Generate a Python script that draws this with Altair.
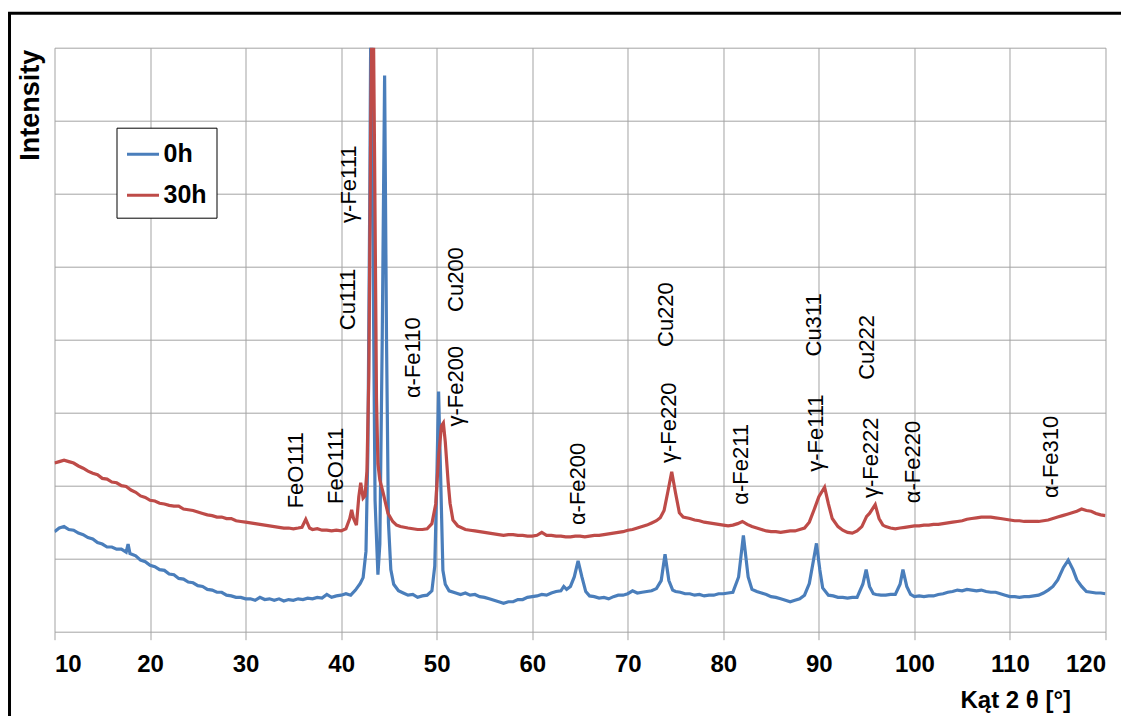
import altair as alt
import pandas as pd

# ---- data ----
angle_0h = [
    10.0, 10.5, 11.0, 11.5, 12.0, 12.5, 13.0, 13.5, 14.0, 14.5,
    15.0, 15.5, 16.0, 16.5, 17.0, 17.5, 17.7, 17.9, 18.5, 19.0,
    19.5, 20.0, 20.5, 21.0, 21.5, 22.0, 22.5, 23.0, 23.5, 24.0,
    24.5, 25.0, 25.5, 26.0, 26.5, 27.0, 27.5, 28.0, 28.5, 29.0,
    29.5, 30.0, 30.5, 31.0, 31.5, 32.0, 32.5, 33.0, 33.5, 34.0,
    34.5, 35.0, 35.5, 36.0, 36.5, 37.0, 37.5, 38.0, 38.5, 39.0,
    39.5, 40.0, 40.5, 41.0, 41.5, 42.0, 42.3, 42.6, 42.8, 43.0,
    43.15, 43.35, 43.55, 43.85, 44.05, 44.3, 44.55, 44.75, 44.95, 45.2,
    45.5, 46.0, 46.5, 47.0, 47.5, 48.0, 48.5, 49.0, 49.5, 49.8,
    50.0, 50.2, 50.4, 50.65, 50.9, 51.3, 52.0, 52.5, 53.0, 53.5,
    54.0, 54.5, 55.0, 55.5, 56.0, 56.5, 57.0, 57.5, 58.0, 58.5,
    59.0, 59.5, 60.0, 60.5, 61.0, 61.5, 62.0, 62.5, 63.0, 63.3,
    63.6, 64.0, 64.4, 64.8, 65.2, 65.6, 66.0, 66.5, 67.0, 67.5,
    68.0, 68.5, 69.0, 69.5, 70.0, 70.5, 71.0, 71.5, 72.0, 72.5,
    73.0, 73.5, 73.9, 74.3, 74.7, 75.0, 75.5, 76.0, 76.5, 77.0,
    77.5, 78.0, 78.5, 79.0, 79.5, 80.0, 80.5, 81.0, 81.6, 82.1,
    82.6, 83.0, 83.5, 84.0, 84.5, 85.0, 85.5, 86.0, 86.5, 87.0,
    87.5, 88.0, 88.5, 89.0, 89.4, 89.75, 90.1, 90.4, 91.0, 91.5,
    92.0, 92.5, 93.0, 93.5, 94.0, 94.6, 94.95, 95.3, 95.7, 96.0,
    96.5, 97.0, 97.5, 98.0, 98.5, 98.8, 99.2, 99.6, 100.0, 100.5,
    101.0, 101.5, 102.0, 102.5, 103.0, 103.5, 104.0, 104.5, 105.0, 105.5,
    106.0, 106.5, 107.0, 107.5, 108.0, 108.5, 109.0, 109.5, 110.0, 110.5,
    111.0, 111.5, 112.0, 112.5, 113.0, 113.5, 114.0, 114.5, 115.0, 115.6,
    116.1, 116.6, 117.0, 117.5, 118.0, 118.5, 119.0, 119.5, 120.0,
]
intensity_0h = [
    1.37, 1.42, 1.44, 1.40, 1.39, 1.35, 1.33, 1.29, 1.27, 1.22,
    1.20, 1.16, 1.16, 1.13, 1.13, 1.09, 1.20, 1.07, 1.04, 0.98,
    0.96, 0.91, 0.89, 0.85, 0.84, 0.79, 0.78, 0.73, 0.72, 0.68,
    0.67, 0.63, 0.62, 0.58, 0.57, 0.54, 0.54, 0.50, 0.49, 0.47,
    0.47, 0.45, 0.45, 0.43, 0.47, 0.44, 0.45, 0.43, 0.45, 0.42,
    0.44, 0.43, 0.45, 0.44, 0.46, 0.45, 0.47, 0.46, 0.51, 0.47,
    0.49, 0.50, 0.52, 0.50, 0.57, 0.66, 0.74, 1.10, 2.50, 6.00,
    9.50, 5.00, 1.80, 0.78, 1.20, 4.00, 7.62, 4.00, 1.50, 0.85,
    0.65, 0.56, 0.53, 0.50, 0.51, 0.47, 0.49, 0.50, 0.56, 0.90,
    2.00, 3.29, 2.20, 0.84, 0.65, 0.56, 0.53, 0.51, 0.53, 0.50,
    0.51, 0.48, 0.47, 0.45, 0.43, 0.41, 0.39, 0.41, 0.41, 0.44,
    0.44, 0.47, 0.48, 0.49, 0.51, 0.50, 0.53, 0.55, 0.56, 0.62,
    0.58, 0.62, 0.75, 0.97, 0.75, 0.55, 0.49, 0.48, 0.46, 0.47,
    0.45, 0.48, 0.50, 0.50, 0.52, 0.56, 0.53, 0.54, 0.55, 0.56,
    0.59, 0.70, 1.06, 0.70, 0.57, 0.55, 0.54, 0.52, 0.52, 0.50,
    0.51, 0.49, 0.50, 0.50, 0.52, 0.52, 0.53, 0.54, 0.75, 1.32,
    0.75, 0.58, 0.55, 0.53, 0.51, 0.48, 0.47, 0.45, 0.43, 0.41,
    0.43, 0.45, 0.50, 0.66, 0.95, 1.21, 0.85, 0.60, 0.50, 0.49,
    0.47, 0.47, 0.46, 0.47, 0.47, 0.65, 0.85, 0.62, 0.52, 0.51,
    0.50, 0.50, 0.51, 0.51, 0.65, 0.85, 0.62, 0.51, 0.48, 0.49,
    0.48, 0.49, 0.49, 0.51, 0.52, 0.54, 0.55, 0.57, 0.56, 0.58,
    0.57, 0.56, 0.57, 0.55, 0.54, 0.54, 0.52, 0.50, 0.48, 0.48,
    0.47, 0.48, 0.48, 0.49, 0.50, 0.53, 0.57, 0.62, 0.71, 0.88,
    0.98, 0.85, 0.71, 0.62, 0.55, 0.54, 0.53, 0.53, 0.52,
]

angle_30h = [
    10.0, 10.5, 11.0, 11.5, 12.0, 12.5, 13.0, 13.5, 14.0, 14.5,
    15.0, 15.5, 16.0, 16.5, 17.0, 17.5, 18.0, 18.5, 19.0, 19.5,
    20.0, 20.5, 21.0, 21.5, 22.0, 22.5, 23.0, 23.5, 24.0, 24.5,
    25.0, 25.5, 26.0, 26.5, 27.0, 27.5, 28.0, 28.5, 29.0, 29.5,
    30.0, 30.5, 31.0, 31.5, 32.0, 32.5, 33.0, 33.5, 34.0, 34.5,
    35.0, 35.5, 35.9, 36.3, 36.7, 37.0, 37.5, 38.0, 38.5, 39.0,
    39.5, 40.0, 40.5, 40.9, 41.1, 41.3, 41.6, 41.85, 42.05, 42.3,
    42.5, 42.7, 42.9, 43.1, 43.3, 43.5, 43.7, 43.85, 44.05, 44.4,
    44.9, 45.4, 45.8, 46.2, 46.6, 47.0, 47.5, 48.0, 48.5, 49.0,
    49.5, 49.9, 50.2, 50.5, 50.7, 50.9, 51.2, 51.4, 51.7, 52.2,
    53.0, 53.5, 54.0, 54.5, 55.0, 55.5, 56.0, 56.5, 57.0, 57.5,
    58.0, 58.5, 59.0, 59.5, 60.0, 60.5, 61.0, 61.5, 62.0, 62.5,
    63.0, 63.5, 64.0, 64.5, 65.0, 65.5, 66.0, 66.5, 67.0, 67.5,
    68.0, 68.5, 69.0, 69.5, 70.0, 70.5, 71.0, 71.5, 72.0, 72.5,
    73.0, 73.4, 73.8, 74.2, 74.6, 75.0, 75.4, 75.8, 76.5, 77.0,
    77.5, 78.0, 78.5, 79.0, 79.5, 80.0, 80.5, 81.0, 81.5, 82.0,
    82.5, 83.0, 83.5, 84.0, 84.5, 85.0, 85.5, 86.0, 86.5, 87.0,
    87.5, 88.0, 88.5, 89.0, 89.5, 90.0, 90.6, 91.0, 91.4, 92.0,
    92.5, 93.0, 93.5, 94.0, 94.5, 95.0, 95.3, 95.9, 96.3, 96.7,
    97.0, 97.5, 98.0, 98.5, 99.0, 99.5, 100.0, 100.5, 101.0, 101.5,
    102.0, 102.5, 103.0, 103.5, 104.0, 104.5, 105.0, 105.5, 106.0, 106.5,
    107.0, 107.5, 108.0, 108.5, 109.0, 109.5, 110.0, 110.5, 111.0, 111.5,
    112.0, 112.5, 113.0, 113.5, 114.0, 114.5, 115.0, 115.5, 116.0, 116.5,
    117.0, 117.5, 118.0, 118.5, 119.0, 119.5, 120.0,
]
intensity_30h = [
    2.31, 2.33, 2.35, 2.33, 2.31, 2.27, 2.24, 2.20, 2.17, 2.15,
    2.10, 2.09, 2.05, 2.04, 2.00, 1.99, 1.94, 1.91, 1.86, 1.84,
    1.80, 1.79, 1.76, 1.75, 1.73, 1.72, 1.72, 1.68, 1.67, 1.66,
    1.64, 1.62, 1.60, 1.59, 1.57, 1.57, 1.55, 1.55, 1.52, 1.51,
    1.50, 1.49, 1.48, 1.47, 1.46, 1.45, 1.44, 1.43, 1.42, 1.42,
    1.41, 1.42, 1.43, 1.54, 1.42, 1.40, 1.41, 1.39, 1.39, 1.38,
    1.39, 1.38, 1.41, 1.55, 1.67, 1.55, 1.46, 1.85, 2.04, 1.83,
    1.86, 2.20, 3.50, 7.00, 9.50, 6.50, 3.20, 2.30, 2.08, 1.90,
    1.62, 1.51, 1.46, 1.44, 1.43, 1.42, 1.41, 1.40, 1.40, 1.41,
    1.48, 1.75, 2.40, 2.82, 2.86, 2.60, 2.05, 1.76, 1.53, 1.45,
    1.40, 1.39, 1.38, 1.37, 1.36, 1.35, 1.34, 1.33, 1.32, 1.33,
    1.33, 1.32, 1.32, 1.31, 1.31, 1.32, 1.36, 1.32, 1.32, 1.31,
    1.31, 1.30, 1.30, 1.31, 1.31, 1.30, 1.31, 1.32, 1.32, 1.33,
    1.34, 1.35, 1.36, 1.37, 1.39, 1.40, 1.42, 1.44, 1.46, 1.49,
    1.52, 1.56, 1.66, 1.92, 2.19, 1.90, 1.63, 1.57, 1.55, 1.53,
    1.52, 1.50, 1.49, 1.48, 1.47, 1.46, 1.45, 1.46, 1.48, 1.51,
    1.47, 1.44, 1.42, 1.40, 1.38, 1.37, 1.37, 1.36, 1.37, 1.38,
    1.38, 1.40, 1.42, 1.50, 1.67, 1.85, 1.98, 1.75, 1.55, 1.44,
    1.39, 1.36, 1.35, 1.38, 1.44, 1.58, 1.62, 1.74, 1.55, 1.46,
    1.44, 1.42, 1.41, 1.42, 1.43, 1.44, 1.45, 1.45, 1.46, 1.46,
    1.47, 1.47, 1.48, 1.49, 1.50, 1.51, 1.52, 1.54, 1.55, 1.56,
    1.57, 1.57, 1.57, 1.56, 1.55, 1.54, 1.53, 1.52, 1.52, 1.51,
    1.51, 1.51, 1.51, 1.52, 1.53, 1.55, 1.57, 1.59, 1.61, 1.63,
    1.65, 1.68, 1.66, 1.65, 1.62, 1.60, 1.59,
]

peak_labels = [
    "FeO111", "FeO111", "Cu111", "γ-Fe111", "α-Fe110", "γ-Fe200", "Cu200",
    "α-Fe200", "γ-Fe220", "Cu220", "α-Fe211", "γ-Fe111", "Cu311",
    "γ-Fe222", "Cu222", "α-Fe220", "α-Fe310",
]
peak_label_x = [
    35.23, 39.45, 40.75, 40.86, 47.55, 52.06, 52.06,
    64.80, 74.28, 74.04, 81.88, 89.73, 89.45,
    95.48, 95.04, 99.83, 114.30,
]
peak_label_y = [
    1.69, 1.75, 4.13, 5.60, 3.20, 2.81, 4.38,
    1.46, 2.31, 3.90, 1.74, 2.19, 3.77,
    1.83, 3.45, 1.76, 1.83,
]

series_names = ["0h", "30h"]
series_colors = ["#4A7EBB", "#BE4B48"]
x_ticks = [10, 20, 30, 40, 50, 60, 70, 80, 90, 100, 110, 120]
y_grid = [0, 1, 2, 3, 4, 5, 6, 7, 8]

assert len(angle_0h) == len(intensity_0h)
assert len(angle_30h) == len(intensity_30h)

df = pd.concat([
    pd.DataFrame({"angle": angle_0h, "intensity": intensity_0h, "series": "0h"}),
    pd.DataFrame({"angle": angle_30h, "intensity": intensity_30h, "series": "30h"}),
], ignore_index=True)

labels_df = pd.DataFrame({"label": peak_labels, "x": peak_label_x, "y": peak_label_y})

W, H = 1051, 584
FONT = "Liberation Sans"
GRID = "#a3a3a3"

xscale = alt.Scale(domain=[10, 120], nice=False, zero=False)
yscale = alt.Scale(domain=[0, 8], nice=False, zero=False)

lines = alt.Chart(df).mark_line(strokeWidth=3.2, clip=True).encode(
    x=alt.X("angle:Q", scale=xscale,
            axis=alt.Axis(values=x_ticks, title="Kąt 2 θ [°]", grid=True,
                          ticks=True, tickSize=8, tickColor=GRID, domain=False,
                          labelFontSize=24, labelFontWeight="bold", labelFont=FONT,
                          labelColor="black", labelPadding=13,
                          titleFontSize=24, titleFontWeight="bold", titleFont=FONT,
                          titleColor="black", titleX=1016, titleY=69,
                          titleAlign="right", titleBaseline="middle")),
    y=alt.Y("intensity:Q", scale=yscale,
            axis=alt.Axis(values=y_grid, labels=False, ticks=False, domain=False,
                          grid=True, title="Intensity", titleFontSize=27,
                          titleFontWeight="bold", titleFont=FONT, titleColor="black",
                          titleX=-24, titleY=57, titleAngle=270,
                          titleAlign="center", titleBaseline="middle")),
    color=alt.Color("series:N",
                    scale=alt.Scale(domain=series_names, range=series_colors),
                    legend=alt.Legend(title=None, orient="none", legendX=62, legendY=80,
                                      symbolType="stroke", symbolSize=1024,
                                      symbolStrokeWidth=3, labelFontSize=25,
                                      labelFontWeight="bold", labelFont=FONT,
                                      labelColor="black", padding=9,
                                      strokeColor="black", fillColor="white",
                                      rowPadding=10, labelOffset=3)),
)

texts = alt.Chart(labels_df).mark_text(
    angle=270, align="left", baseline="middle", fontSize=22, font=FONT, color="black"
).encode(
    x=alt.X("x:Q", scale=xscale),
    y=alt.Y("y:Q", scale=yscale),
    text="label:N",
)

one = pd.DataFrame({"k": [0]})
frame_left = alt.Chart(one).mark_rule(color="black", strokeWidth=3).encode(
    x=alt.value(-45), y=alt.value(-35), y2=alt.value(H + 150))
frame_top = alt.Chart(one).mark_rule(color="black", strokeWidth=3).encode(
    y=alt.value(-34.5), x=alt.value(-46.5), x2=alt.value(W + 80))

chart = alt.layer(lines, texts, frame_left, frame_top).properties(
    width=W, height=H,
    autosize=alt.AutoSizeParams(type="none"),
    padding={"left": 46.5, "top": 39.7, "right": 15.5, "bottom": 84},
).configure_axis(
    gridColor=GRID, gridWidth=1, gridOpacity=1,
).configure_view(stroke=None)

chart.save("out.html", embed_options={"renderer": "svg", "actions": False})
